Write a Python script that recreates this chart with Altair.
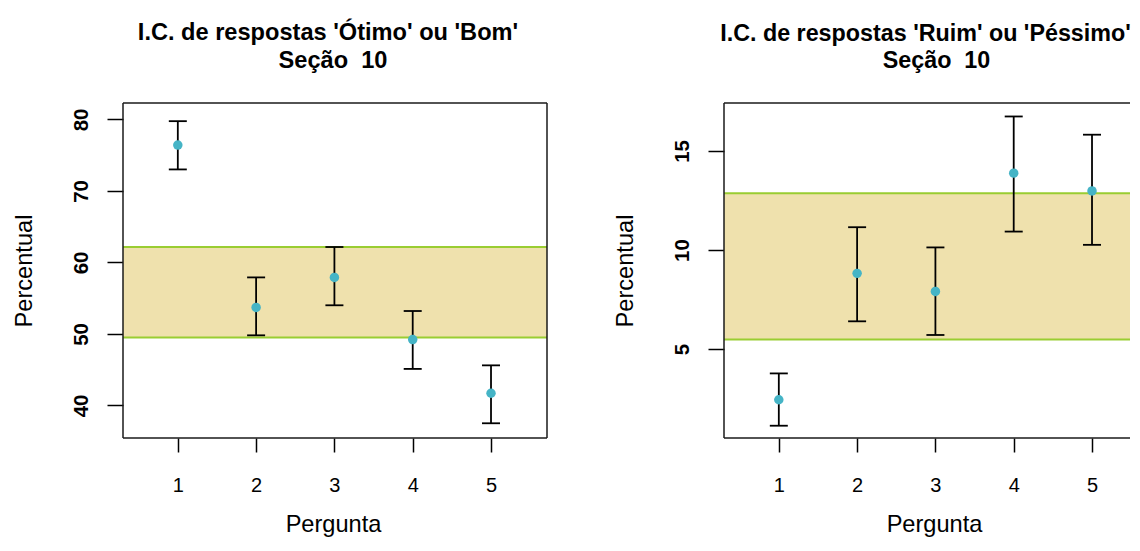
import altair as alt
import pandas as pd

perguntas = [1, 2, 3, 4, 5]

bom_est = [76.4, 53.7, 57.9, 49.2, 41.7]
bom_lo = [73.0, 49.8, 54.0, 45.1, 37.5]
bom_hi = [79.75, 57.9, 62.15, 53.2, 45.6]
bom_band = [49.5, 62.15]
bom_ydom = [35.44, 82.29]
bom_yticks = [40, 50, 60, 70, 80]
bom_title = "I.C. de respostas 'Ótimo' ou 'Bom'"

ruim_est = [2.44, 8.82, 7.91, 13.88, 12.98]
ruim_lo = [1.13, 6.40, 5.71, 10.93, 10.26]
ruim_hi = [3.77, 11.15, 10.13, 16.74, 15.82]
ruim_band = [5.48, 12.87]
ruim_ydom = [0.51, 17.42]
ruim_yticks = [5, 10, 15]
ruim_title = "I.C. de respostas 'Ruim' ou 'Péssimo'"

subtitle = "Seção\u00a0\u00a010"

FONT = "Liberation Sans"
TEAL = "#45B4C6"
FILL = "#EFE1AD"
GREEN = "#9ACD32"
H = 335
PX_PER_UNIT = 78.3


def panel(est, lo, hi, band, ydom, yticks, title, width, closed, title_size, title_dx, sub_x):
    df = pd.DataFrame({"Pergunta": perguntas, "est": est, "lo": lo, "hi": hi})
    bdf = pd.DataFrame({"blo": [band[0]], "bhi": [band[1]]})
    ldf = pd.DataFrame({"v": band})
    one = pd.DataFrame({"k": [0]})
    sdf = pd.DataFrame({"s": [subtitle]})

    xmax = 0.3 + width / PX_PER_UNIT
    xscale = alt.Scale(domain=[0.3, xmax], nice=False, zero=False)
    xaxis = alt.Axis(values=perguntas, title="Pergunta", format="d", grid=False, domain=False,
                     tickSize=14, tickWidth=1.5, tickColor="black",
                     labelFontSize=20, labelFont=FONT, labelColor="black",
                     labelBaseline="alphabetic", labelPadding=39,
                     titleFontSize=23.6, titleFont=FONT, titleFontWeight="normal",
                     titleColor="black", titleBaseline="alphabetic", titleY=93,
                     titleX=210, titleAlign="center")
    yscale = alt.Scale(domain=ydom, nice=False, zero=False)
    yaxis = alt.Axis(values=yticks, title="Percentual", grid=False, domain=False,
                     tickSize=16, tickWidth=1.5, tickColor="black",
                     labelAngle=270, labelAlign="center", labelBaseline="alphabetic",
                     labelPadding=20, labelFontSize=20.5, labelFontWeight="bold",
                     labelFont=FONT, labelColor="black",
                     titleFontSize=23.6, titleFont=FONT, titleFontWeight="normal",
                     titleColor="black", titleBaseline="alphabetic", titleX=-92,
                     titleAngle=270)

    def X(f):
        return alt.X(f, type="quantitative", scale=xscale, axis=xaxis)

    def Y(f):
        return alt.Y(f, type="quantitative", scale=yscale, axis=yaxis)

    rect = alt.Chart(bdf).mark_rect(color=FILL, opacity=1).encode(
        y=Y("blo"), y2="bhi", x=alt.value(0), x2=alt.value(width))
    lines = alt.Chart(ldf).mark_rule(color=GREEN, strokeWidth=2).encode(
        y=Y("v"), x=alt.value(0), x2=alt.value(width))
    stems = alt.Chart(df).mark_rule(color="black", strokeWidth=1.8).encode(
        x=X("Pergunta"), y=Y("lo"), y2="hi")
    cap_lo = alt.Chart(df).mark_tick(orient="horizontal", size=18, thickness=1.8,
                                     color="black", opacity=1).encode(
        x=X("Pergunta"), y=Y("lo"))
    cap_hi = alt.Chart(df).mark_tick(orient="horizontal", size=18, thickness=1.8,
                                     color="black", opacity=1).encode(
        x=X("Pergunta"), y=Y("hi"))
    pts = alt.Chart(df).mark_circle(size=90, color=TEAL, opacity=1).encode(
        x=X("Pergunta"), y=Y("est"))

    sub = alt.Chart(sdf).mark_text(
        font=FONT, fontSize=title_size, fontWeight="bold", color="black",
        align="center", baseline="alphabetic", clip=False
    ).encode(text="s:N", x=alt.value(sub_x), y=alt.value(-35))

    border = alt.Chart(one)
    b_top = border.mark_rule(color="#1a1a1a", strokeWidth=1.5).encode(
        x=alt.value(0), x2=alt.value(width), y=alt.value(0))
    b_bot = border.mark_rule(color="#1a1a1a", strokeWidth=1.5).encode(
        x=alt.value(0), x2=alt.value(width), y=alt.value(H))
    b_left = border.mark_rule(color="#1a1a1a", strokeWidth=1.5).encode(
        x=alt.value(0), y=alt.value(0), y2=alt.value(H))
    layers = [rect, lines, stems, cap_lo, cap_hi, pts, b_top, b_bot, b_left]
    if closed:
        b_right = border.mark_rule(color="#1a1a1a", strokeWidth=1.5).encode(
            x=alt.value(width), y=alt.value(0), y2=alt.value(H))
        layers.append(b_right)
    layers.append(sub)

    return alt.layer(*layers).properties(
        width=width, height=H,
        title=alt.TitleParams(text=title, fontSize=title_size, fontWeight="bold", font=FONT,
                              color="black", anchor="middle", frame="group",
                              baseline="alphabetic", offset=-15, dx=title_dx),
    )


left = panel(bom_est, bom_lo, bom_hi, bom_band, bom_ydom, bom_yticks, bom_title,
             424, True, 23.6, -7, 210)
right = panel(ruim_est, ruim_lo, ruim_hi, ruim_band, ruim_ydom, ruim_yticks, ruim_title,
              406, False, 23.3, -1.5, 212.5)

chart = alt.hconcat(left, right, spacing=63).properties(
    padding={"left": 3, "top": 12, "right": 0, "bottom": 0}
).configure(font=FONT, background="white").configure_view(stroke="transparent")

chart.save("out.html", embed_options={"renderer": "svg", "actions": False})
